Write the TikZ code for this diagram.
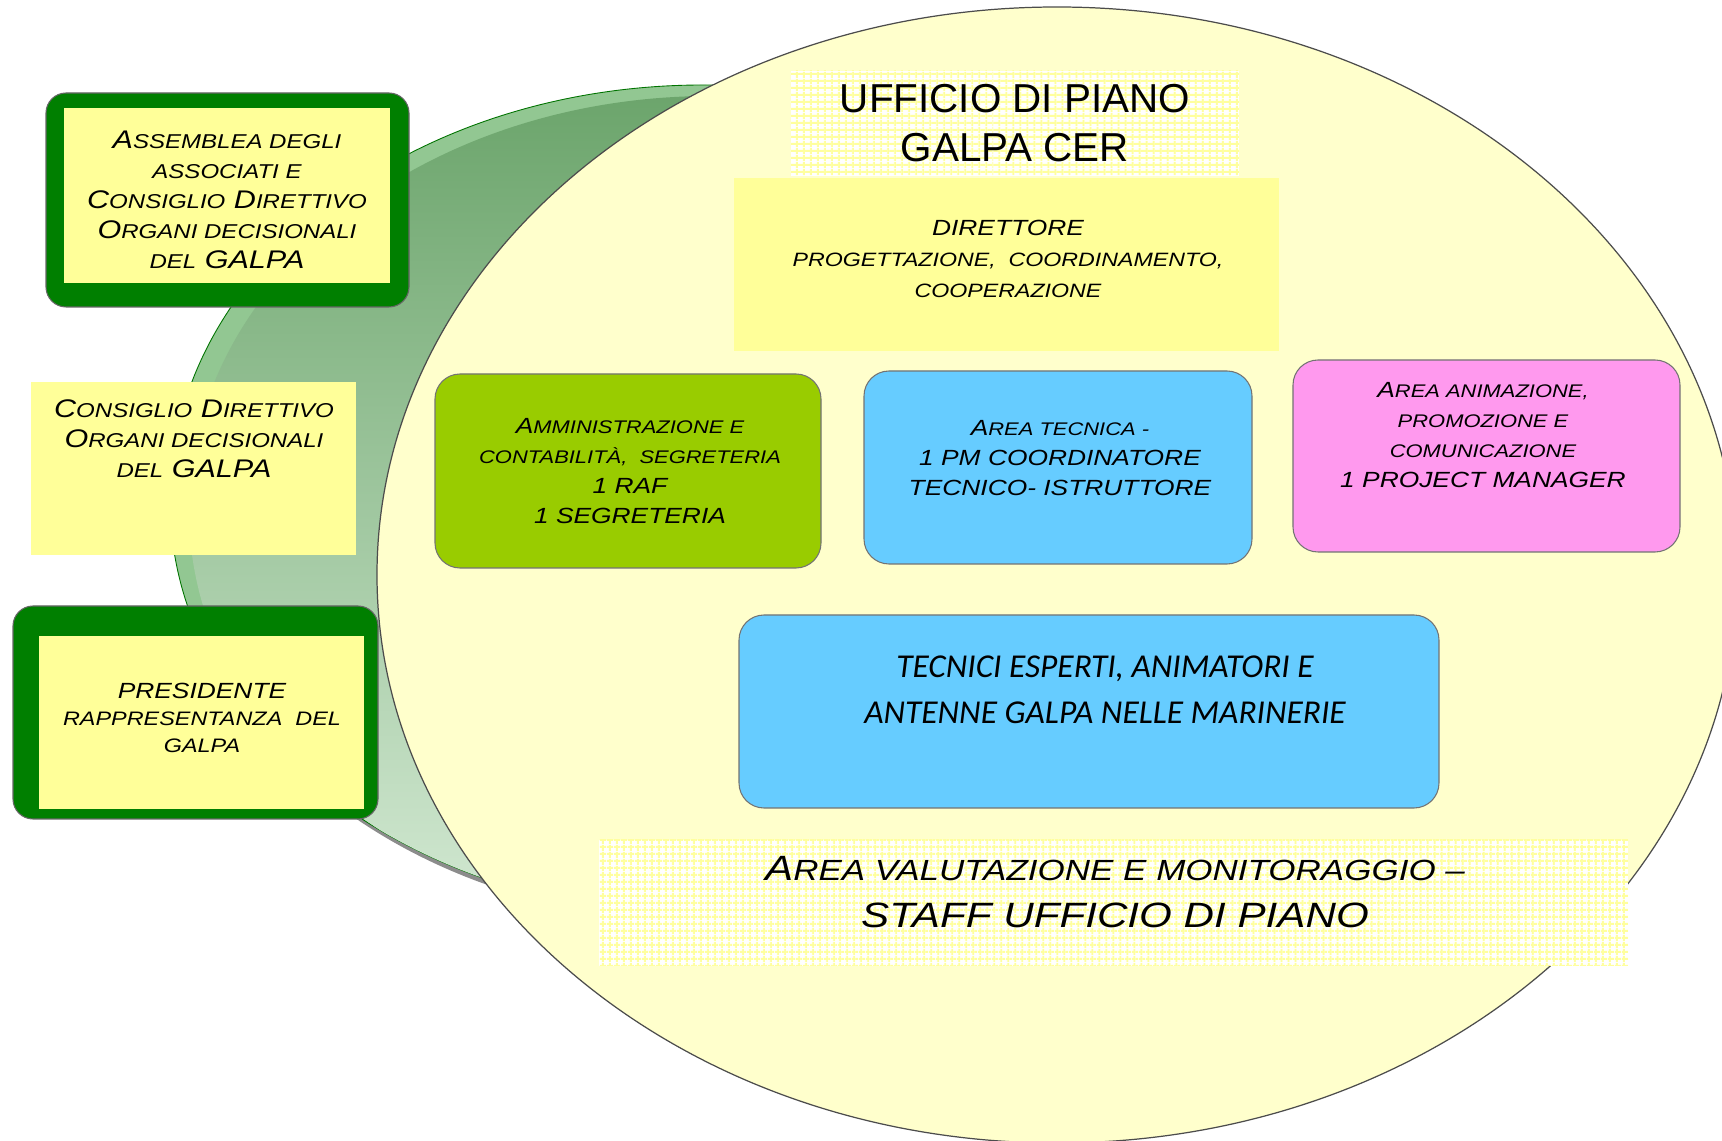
\documentclass[tikz,border=0pt]{standalone}
\usepackage{fontspec}
\setmainfont{Liberation Sans}
\newfontfamily\widefont[FakeStretch=1.2]{Liberation Sans}
\newfontfamily\calfont{Carlito}
\usetikzlibrary{fit, patterns.meta}
\definecolor{ovalyellow}{HTML}{FFFFCC}
\definecolor{padyellow}{HTML}{FFFF99}
\definecolor{gridyellow}{HTML}{FFFF9E}
\definecolor{deepgreen}{HTML}{007F00}
\definecolor{limegreen}{HTML}{99CC00}
\definecolor{skyblue}{HTML}{66CCFF}
\definecolor{areapink}{HTML}{FF99EE}
\definecolor{rimgreen}{HTML}{92C792}
\definecolor{discdark}{HTML}{6CA56C}
\definecolor{discmid}{HTML}{86B986}
\definecolor{disclight}{HTML}{D3E9D3}
\newcommand{\lsc}[2][10.4]{{\fontsize{#1}{#1}\selectfont #2}}

\begin{document}
\begin{tikzpicture}[x=0.02cm, y=-0.02cm,
every node/.style={align=center, inner sep=0pt},
greenframe/.style={draw=black!60, line width=0.6pt, fill=deepgreen, rounded corners=0.4cm},
padbox/.style={fill=padyellow},
areabox/.style={draw=black!55, line width=0.6pt, rounded corners=0.5cm},
gridbox/.style={fill=white,
    postaction={pattern={Lines[angle=0, distance=4pt, line width=1.3pt]}, pattern color=gridyellow},
    postaction={pattern={Lines[angle=90, distance=4pt, line width=1.3pt]}, pattern color=gridyellow}},
sidetext/.style={font=\widefont\itshape\fontsize{14.5}{17}\selectfont},
areatext/.style={font=\widefont\itshape\fontsize{12.5}{17}\selectfont}]
\clip (0,0) rectangle (1722,1141);

\fill[black!45] (708,507) ellipse [x radius=533, y radius=415];
\filldraw[fill=rimgreen, draw=green!45!black, line width=0.5pt] (703,500) ellipse [x radius=533, y radius=415];
\begin{scope}
\clip (703,500) ellipse [x radius=533, y radius=415];
\shade[top color=discdark, middle color=discmid, bottom color=disclight] (711,510) ellipse [x radius=522, y radius=414];
\end{scope}
\filldraw[fill=ovalyellow, draw=black!70, line width=0.7pt] (1057,575) ellipse [x radius=680, y radius=568];

\node[fit={(46,93) (409,307)}, greenframe] (assembleaFrame) {};
\node[fit={(64,108) (390,283)}, padbox] (assembleaPad) {};
\node[sidetext] (assembleaTxt) at (227,200)
  {A\lsc[11.4]{SSEMBLEA DEGLI}\\ \lsc[11.4]{ASSOCIATI E}\\ C\lsc[11.4]{ONSIGLIO} D\lsc[11.4]{IRETTIVO}\\ O\lsc[11.4]{RGANI DECISIONALI}\\ \lsc[11.4]{DEL} GALPA};

\node[fit={(31,382) (356,555)}, padbox] (consiglioPad) {};
\node[sidetext] (consiglioTxt) at (194,439)
  {C\lsc[11.4]{ONSIGLIO} D\lsc[11.4]{IRETTIVO}\\ O\lsc[11.4]{RGANI DECISIONALI}\\ \lsc[11.4]{DEL} GALPA};

\node[fit={(13,606) (378,819)}, greenframe] (presidenteFrame) {};
\node[fit={(39,636) (364,809)}, padbox] (presidentePad) {};
\node[font=\widefont\itshape\fontsize{12.5}{15.6}\selectfont] (presidenteTxt) at (202,718)
  {PRESIDENTE\\ \lsc[11.1]{RAPPRESENTANZA\ \ DEL}\\ \lsc[11.1]{GALPA}};

\node[fit={(791,71) (1239,176)}, gridbox] (titleGrid) {};
\node[font=\fontsize{23}{28}\selectfont] (titleTxt) at (1015,123) {UFFICIO DI PIANO\\GALPA CER};

\node[fit={(734,178) (1279,351)}, padbox] (direttorePad) {};
\node[font=\widefont\itshape\fontsize{11}{17.4}\selectfont] (direttoreTxt) at (1008,259)
  {\lsc[12.5]{DIRETTORE}\\ PROGETTAZIONE,\ \ COORDINAMENTO,\\ COOPERAZIONE};

\node[fit={(435,374) (821,568)}, areabox, fill=limegreen] (amminBox) {};
\node[areatext] (amminTxt) at (630,471)
  {A\lsc{MMINISTRAZIONE E}\\ \lsc{CONTABILITÀ,\ \ SEGRETERIA}\\ 1 RAF\\ 1 SEGRETERIA};

\node[fit={(864,371) (1252,564)}, areabox, fill=skyblue] (tecnicaBox) {};
\node[areatext] (tecnicaTxt) at (1060,458)
  {A\lsc{REA TECNICA -}\\ 1 PM COORDINATORE\\ TECNICO- ISTRUTTORE};

\node[fit={(1293,360) (1680,552)}, areabox, fill=areapink] (animazioneBox) {};
\node[areatext] (animazioneTxt) at (1483,435)
  {A\lsc{REA ANIMAZIONE,}\\ \lsc{PROMOZIONE E}\\ \lsc{COMUNICAZIONE}\\ 1 PROJECT MANAGER};

\node[fit={(739,615) (1439,808)}, areabox, fill=skyblue] (tecniciBox) {};
\node[font=\calfont\itshape\fontsize{19}{26}\selectfont] (tecniciTxt) at (1105,690)
  {TECNICI ESPERTI, ANIMATORI E\\ ANTENNE GALPA NELLE MARINERIE};

\node[fit={(599,840) (1628,966)}, gridbox] (staffGrid) {};
\node[font=\widefont\itshape\fontsize{20}{27}\selectfont] (staffTxt) at (1115,892)
  {A\lsc[16.6]{REA VALUTAZIONE E MONITORAGGIO –}\\ STAFF UFFICIO DI PIANO};
\end{tikzpicture}
\end{document}
